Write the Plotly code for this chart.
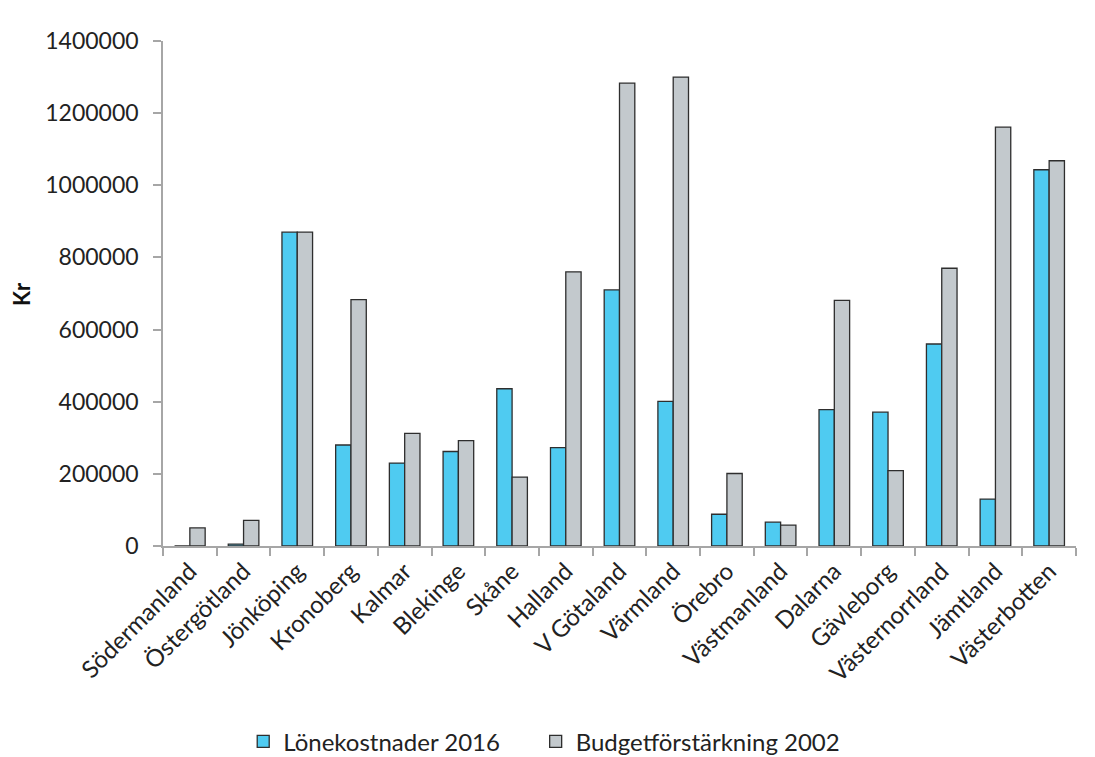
import plotly.graph_objects as go

# Län (counties) along the x axis
lan = [
    "Södermanland", "Östergötland", "Jönköping", "Kronoberg", "Kalmar",
    "Blekinge", "Skåne", "Halland", "V Götaland", "Värmland", "Örebro",
    "Västmanland", "Dalarna", "Gävleborg", "Västernorrland", "Jämtland",
    "Västerbotten",
]

# Kronor per county
lonekostnader_2016 = [
    0, 5000, 870000, 280000, 230000, 262000, 436000, 273000, 710000,
    401000, 88000, 66000, 378000, 371000, 560000, 130000, 1043000,
]
budgetforstarkning_2002 = [
    50000, 71000, 870000, 683000, 312000, 292000, 191000, 760000, 1283000,
    1300000, 201000, 58000, 681000, 209000, 770000, 1161000, 1068000,
]

series_names = ["Lönekostnader 2016", "Budgetförstärkning 2002"]
y_ticks = [0, 200000, 400000, 600000, 800000, 1000000, 1200000, 1400000]

FONT = "Lato, 'Open Sans', sans-serif"
TEXT = "#222222"
AXIS_GREY = "#A6A6A6"
OUTLINE = "#2E2E2E"
# extra space after the first legend entry, before the second swatch
LEGEND_PAD = "\u00a0" * 5

fig = go.Figure()
fig.add_trace(go.Bar(
    x=lan, y=lonekostnader_2016, name=series_names[0] + LEGEND_PAD,
    marker=dict(color="#4FCBF1", line=dict(color=OUTLINE, width=1.3)),
))
fig.add_trace(go.Bar(
    x=lan, y=budgetforstarkning_2002, name=series_names[1],
    marker=dict(color="#C3C9CD", line=dict(color=OUTLINE, width=1.3)),
))

fig.update_layout(
    width=1095, height=757,
    margin=dict(l=163, r=19, t=41, b=211),
    paper_bgcolor="white", plot_bgcolor="white",
    barmode="group", bargap=0.43, bargroupgap=0,
    font=dict(family=FONT, size=24, color=TEXT),
    showlegend=True,
    legend=dict(
        orientation="h", xref="container", yref="container",
        x=0.497, y=0.02, xanchor="center", yanchor="middle",
        font=dict(family=FONT, size=24, color=TEXT),
        itemwidth=30, traceorder="normal",
    ),
    annotations=[dict(
        text="<b>Kr</b>", textangle=-90, showarrow=False,
        xref="paper", yref="paper", x=-0.155, y=0.5,
        xanchor="center", yanchor="middle",
        font=dict(family=FONT, size=22, color="#111111"),
    )],
)

fig.update_xaxes(
    type="category", showline=True, linecolor=AXIS_GREY, linewidth=1.5,
    ticks="outside", tickson="boundaries", ticklen=8, tickcolor=AXIS_GREY,
    tickwidth=1.5, tickangle=-45, showgrid=False,
    tickfont=dict(family=FONT, size=24, color=TEXT),
)
fig.update_yaxes(
    range=[0, 1400000], tickvals=y_ticks, tickformat="d",
    showline=True, linecolor=AXIS_GREY, linewidth=1.5,
    ticks="outside", ticklen=8, tickcolor=AXIS_GREY, tickwidth=1.5,
    ticklabelstandoff=10,
    showgrid=False, zeroline=False,
    tickfont=dict(family=FONT, size=23, color=TEXT),
)

fig.write_html("out.html")
